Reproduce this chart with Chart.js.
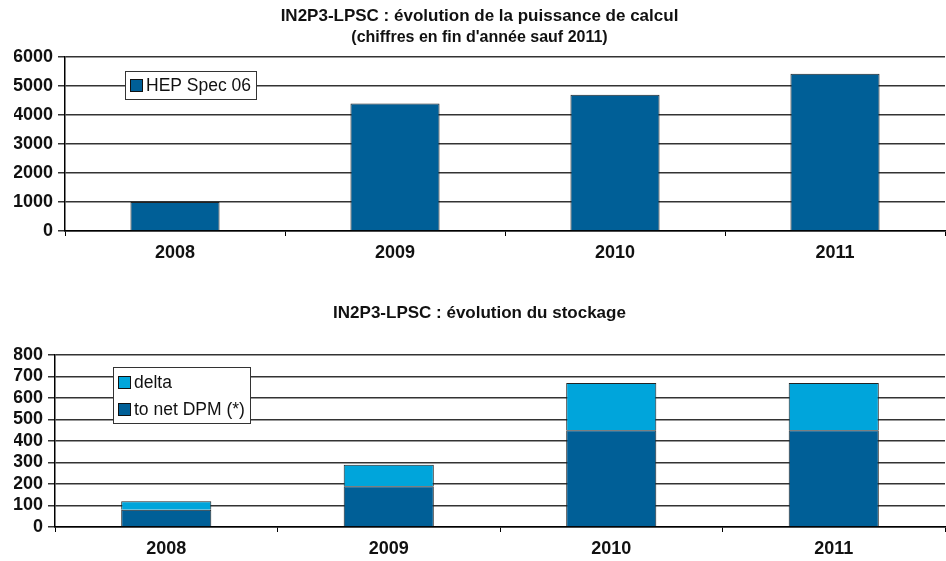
<!DOCTYPE html>
<html>
<head>
<meta charset="utf-8">
<script src="https://cdn.jsdelivr.net/npm/chart.js@4"></script>
<style>
    html, body { margin: 0; padding: 0; background: #fff; }
    #wrap { position: relative; width: 946px; height: 561px; overflow: hidden; }
    .box { position: absolute; left: 0; width: 946px; }
    #powerBox { top: 0; height: 280px; }
    #storageBox { top: 280px; height: 281px; }
</style>
</head>
<body>
<div id="wrap">
    <div class="box" id="powerBox"><canvas id="powerChart"></canvas></div>
    <div class="box" id="storageBox"><canvas id="storageChart"></canvas></div>
</div>
<script>
/* ================= DATA ================= */
const years = ["2008", "2009", "2010", "2011"];

const hepSpec = [1000, 4400, 4700, 5420];

const dpmNet = [80, 190, 450, 450];
const dpmDelta = [40, 100, 220, 220];

const powerMax = 6000, powerStep = 1000;
const storageMax = 800, storageStep = 100;

const DARK = "#005f97";
const LIGHT = "#00a5db";
const FONT = "'Liberation Sans', Arial, sans-serif";

/* ================= LEGEND BOX (inside plot) ================= */
const boxLegend = {
    id: "boxLegend",
    afterDraw(chart, args, o) {
        const ctx = chart.ctx, area = chart.chartArea;
        let items = chart.data.datasets.map(d => ({ label: d.label, color: d.backgroundColor }));
        if (o.reverse) items.reverse();

        ctx.save();
        ctx.font = "17.5px " + FONT;
        const tw = Math.max(...items.map(i => ctx.measureText(i.label).width));
        const x = Math.round(area.left + o.dx), y = Math.round(area.top + o.dy);
        const w = Math.round(5 + 13 + 3 + tw + 5);
        const h = items.length * o.row + 2;

        ctx.fillStyle = "#fff";
        ctx.fillRect(x, y, w, h);
        ctx.strokeStyle = "#333";
        ctx.lineWidth = 1;
        ctx.strokeRect(x + 0.5, y + 0.5, w, h);

        items.forEach((it, i) => {
            const cy = Math.round(y + 1 + o.row * (i + 0.5));
            ctx.fillStyle = it.color;
            ctx.fillRect(x + 5, cy - 6, 13, 13);
            ctx.strokeStyle = "#111";
            ctx.strokeRect(x + 5.5, cy - 5.5, 12, 12);
            ctx.fillStyle = "#111";
            ctx.textBaseline = "middle";
            ctx.fillText(it.label, x + 21, cy + 1);
        });
        ctx.restore();
    }
};

/* ================= HELPERS ================= */
function axes(max, step, yWidth, stacked) {
    return {
        x: {
            stacked: stacked,
            grid: { display: true, drawOnChartArea: false, offset: true, color: "#000", tickLength: 5, lineWidth: 1 },
            border: { display: true, color: "#000", width: 1.5 },
            ticks: { color: "#111", font: { family: FONT, size: 18, weight: "bold", lineHeight: 1 }, padding: 8 },
            afterFit(scale) { scale.height = 30; }
        },
        y: {
            stacked: stacked,
            min: 0,
            max: max,
            grid: { color: "#333", lineWidth: 1.5, tickLength: 7 },
            border: { display: true, color: "#000", width: 1.5 },
            ticks: {
                stepSize: step,
                autoSkip: false,
                color: "#111",
                padding: 5,
                font: { family: FONT, size: 18, weight: "bold" },
                callback: v => String(v)
            },
            afterFit(scale) { scale.width = yWidth; }
        }
    };
}

function baseOptions() {
    return {
        responsive: true,
        maintainAspectRatio: false,
        animation: false,
        events: []
    };
}

/* ================= PUISSANCE DE CALCUL ================= */
new Chart(document.getElementById("powerChart"), {
    type: "bar",
    data: {
        labels: years,
        datasets: [{
            label: "HEP Spec 06",
            data: hepSpec,
            backgroundColor: DARK,
            borderColor: "#222",
            borderWidth: 1,
            categoryPercentage: 1,
            barPercentage: 0.405
        }]
    },
    options: Object.assign(baseOptions(), {
        layout: { padding: { left: 14, right: 1, top: 0, bottom: 19 } },
        scales: axes(powerMax, powerStep, 51, false),
        plugins: {
            legend: { display: false },
            tooltip: { enabled: false },
            title: {
                display: true,
                text: "IN2P3-LPSC : évolution de la puissance de calcul",
                color: "#111",
                font: { family: FONT, size: 17, weight: "bold", lineHeight: 1 },
                padding: { top: 8, bottom: 0 }
            },
            subtitle: {
                display: true,
                text: "(chiffres en fin d'année sauf 2011)",
                color: "#111",
                font: { family: FONT, size: 16, weight: "bold", lineHeight: 1 },
                padding: { top: 5, bottom: 11 }
            },
            boxLegend: { dx: 60, dy: 14, row: 26, reverse: false }
        }
    }),
    plugins: [boxLegend]
});

/* ================= STOCKAGE ================= */
new Chart(document.getElementById("storageChart"), {
    type: "bar",
    data: {
        labels: years,
        datasets: [
            {
                label: "to net DPM (*)",
                data: dpmNet,
                backgroundColor: DARK,
                borderColor: "#222",
                borderWidth: 1,
                categoryPercentage: 1,
                barPercentage: 0.405
            },
            {
                label: "delta",
                data: dpmDelta,
                backgroundColor: LIGHT,
                borderColor: "#222",
                borderWidth: 1,
                categoryPercentage: 1,
                barPercentage: 0.405
            }
        ]
    },
    options: Object.assign(baseOptions(), {
        layout: { padding: { left: 14, right: 1, top: 0, bottom: 4 } },
        scales: axes(storageMax, storageStep, 41, true),
        plugins: {
            legend: { display: false },
            tooltip: { enabled: false },
            title: {
                display: true,
                text: "IN2P3-LPSC : évolution du stockage",
                color: "#111",
                font: { family: FONT, size: 17, weight: "bold", lineHeight: 1 },
                padding: { top: 25, bottom: 33 }
            },
            boxLegend: { dx: 58, dy: 12, row: 27, reverse: true }
        }
    }),
    plugins: [boxLegend]
});
</script>
</body>
</html>
